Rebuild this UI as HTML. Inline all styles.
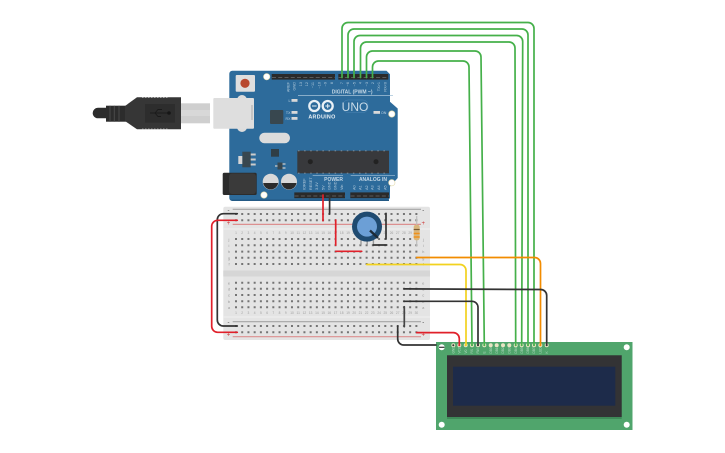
<!DOCTYPE html>
<html><head><meta charset="utf-8"><style>
html,body{margin:0;padding:0;background:#fff;width:725px;height:453px;overflow:hidden}
svg{display:block}
text{font-family:"Liberation Sans",sans-serif}
</style></head><body>
<svg width="725" height="453" viewBox="0 0 725 453" xmlns="http://www.w3.org/2000/svg">
<rect width="725" height="453" fill="#fff"/>

<!-- Breadboard -->
<rect x="223.3" y="206.7" width="206.7" height="133.3" rx="2" fill="#e4e4e4"/>
<rect x="223.3" y="270.5" width="206.7" height="6" fill="#d6d6d6"/>
<path d="M223.3 229h206.7M223.3 317h206.7" stroke="#f0f0f0" stroke-width="1"/>
<path d="M232.7 209.3H421M232.7 321.7H421" stroke="#a5a5a5" stroke-width="1.2"/>
<path d="M232.7 224.4H421M232.7 336.7H421" stroke="#dc9090" stroke-width="1.2"/>
<g stroke="#747474" stroke-width="2" stroke-dasharray="2 4.22" fill="none">
<path d="M235 214H418M235 220.3H418"/>
<path d="M235 239H418M235 245.3H418M235 251.6H418M235 257.8H418M235 264H418"/>
<path d="M235 282.7H418M235 288.8H418M235 295H418M235 301.2H418M235 307.3H418"/>
<path d="M235 326H418M235 332.3H418"/>
</g>
<g font-size="3.2" fill="#a0a0a0" text-anchor="middle">
<text y="234.2"><tspan x="236">1</tspan><tspan x="242.2">2</tspan><tspan x="248.4">3</tspan><tspan x="254.7">4</tspan><tspan x="260.9">5</tspan><tspan x="267.1">6</tspan><tspan x="273.3">7</tspan><tspan x="279.5">8</tspan><tspan x="285.8">9</tspan><tspan x="292">10</tspan><tspan x="298.2">11</tspan><tspan x="304.4">12</tspan><tspan x="310.6">13</tspan><tspan x="316.9">14</tspan><tspan x="323.1">15</tspan><tspan x="329.3">16</tspan><tspan x="335.5">17</tspan><tspan x="341.7">18</tspan><tspan x="348">19</tspan><tspan x="354.2">20</tspan><tspan x="360.4">21</tspan><tspan x="366.6">22</tspan><tspan x="372.8">23</tspan><tspan x="379.1">24</tspan><tspan x="385.3">25</tspan><tspan x="391.5">26</tspan><tspan x="397.7">27</tspan><tspan x="403.9">28</tspan><tspan x="410.2">29</tspan><tspan x="416.4">30</tspan></text>
<text y="314"><tspan x="236">1</tspan><tspan x="242.2">2</tspan><tspan x="248.4">3</tspan><tspan x="254.7">4</tspan><tspan x="260.9">5</tspan><tspan x="267.1">6</tspan><tspan x="273.3">7</tspan><tspan x="279.5">8</tspan><tspan x="285.8">9</tspan><tspan x="292">10</tspan><tspan x="298.2">11</tspan><tspan x="304.4">12</tspan><tspan x="310.6">13</tspan><tspan x="316.9">14</tspan><tspan x="323.1">15</tspan><tspan x="329.3">16</tspan><tspan x="335.5">17</tspan><tspan x="341.7">18</tspan><tspan x="348">19</tspan><tspan x="354.2">20</tspan><tspan x="360.4">21</tspan><tspan x="366.6">22</tspan><tspan x="372.8">23</tspan><tspan x="379.1">24</tspan><tspan x="385.3">25</tspan><tspan x="391.5">26</tspan><tspan x="397.7">27</tspan><tspan x="403.9">28</tspan><tspan x="410.2">29</tspan><tspan x="416.4">30</tspan></text>
</g>
<g font-size="4" fill="#999" text-anchor="middle">
<text x="229" y="241">j</text><text x="229" y="247">i</text><text x="229" y="253">h</text><text x="229" y="259.5">g</text><text x="229" y="265.5">f</text>
<text x="423.3" y="241">j</text><text x="423.3" y="247">i</text><text x="423.3" y="253">h</text><text x="423.3" y="259.5">g</text><text x="423.3" y="265.5">f</text>
<text x="229" y="284.5">e</text><text x="229" y="290.5">d</text><text x="229" y="296.5">c</text><text x="229" y="303">b</text><text x="229" y="309">a</text>
<text x="423.3" y="284.5">e</text><text x="423.3" y="290.5">d</text><text x="423.3" y="296.5">c</text><text x="423.3" y="303">b</text><text x="423.3" y="309">a</text>
</g>
<g font-size="6" text-anchor="middle">
<text x="228.5" y="212" fill="#444">-</text><text x="423.3" y="212" fill="#444">-</text>
<text x="228.5" y="225" fill="#c33">+</text><text x="423.3" y="225" fill="#c33">+</text>
<text x="228.5" y="324" fill="#444">-</text><text x="423.3" y="324" fill="#444">-</text>
<text x="228.5" y="336.5" fill="#c33">+</text><text x="423.3" y="336.5" fill="#c33">+</text>
</g>

<!-- USB cable -->
<rect x="181" y="103.3" width="29" height="20" fill="#cfcfcf"/>
<rect x="181" y="110" width="29" height="6" fill="#d8d8d8"/>
<path d="M92.7 113a5.2 5.2 0 0 1 5.2-5.2H107v10.5H97.9a5.2 5.2 0 0 1-5.2-5.3z" fill="#2c2c2c"/>
<rect x="106" y="105.7" width="20" height="16" fill="#2c2c2c"/>
<path d="M110 105.7v16M114.3 105.7v16M119 105.7v16" stroke="#4a4a4a" stroke-width="1"/>
<path d="M125 106L137 97.3H181V129.3H137L125 121z" fill="#363636"/>
<path d="M142 97.6H168M142 129H168" stroke="#bbb" stroke-width=".8" stroke-dasharray="1.5 1.5"/>
<rect x="145" y="104" width="30" height="18.7" fill="#2d2d2d"/>
<path d="M150 113H168M155 113l3-3.5h4M155 113l3 3.5h3" stroke="#1a1a1a" stroke-width=".9" fill="none"/>
<circle cx="169" cy="113" r="1.8" fill="#161616"/>

<!-- Arduino -->
<path d="M232.3 70.7H386.5L390 74.2V101.7L397.7 108.5V178L390 186.5V198L387 201H232.3A3 3 0 0 1 229.3 198V73.7A3 3 0 0 1 232.3 70.7Z" fill="#2d6b9b"/>
<path d="M229.8 199.5H389V201H232.3z" fill="#245a85"/>
<!-- headers -->
<rect x="271.7" y="74" width="63.3" height="5.6" fill="#2a2a2a"/>
<rect x="338.3" y="74" width="50" height="5.6" fill="#2a2a2a"/>
<rect x="294.3" y="192.4" width="50.7" height="5.8" fill="#2a2a2a"/>
<rect x="350.3" y="192.4" width="38.7" height="5.8" fill="#2a2a2a"/>
<g stroke="#5a5a5a" stroke-width="1" fill="none">
<path d="M272 77.5H335M338.6 77.5H388" stroke-dasharray="4 2.25"/>
<path d="M294.6 196H345M350.6 196H389" stroke-dasharray="4 2.25"/>
</g>
<!-- holes -->
<g fill="#fff" stroke="#e3d9a8" stroke-width=".6">
<circle cx="266.7" cy="76.7" r="3.2"/><circle cx="391.8" cy="114" r="3.2"/><circle cx="391.8" cy="182.7" r="3.2"/><circle cx="264" cy="195" r="3.2"/>
</g>
<!-- reset -->
<rect x="235.7" y="75" width="19.3" height="16.7" rx="1" fill="#dedede"/>
<circle cx="245" cy="83.3" r="4.6" fill="#b8482e"/>
<!-- USB port -->
<rect x="237" y="95" width="10" height="37" rx="5" fill="#dcdcdc"/>
<rect x="213.3" y="98" width="40.7" height="30.7" rx="1" fill="#dedede"/>
<rect x="251.5" y="105" width="1" height="15" fill="#aaa"/>
<!-- chips -->
<rect x="270" y="110" width="13.3" height="14" rx="1" fill="#38474f"/>
<rect x="259.3" y="132.7" width="30.7" height="10.6" rx="5.3" fill="#dcdcdc"/>
<rect x="271" y="149" width="8" height="7.7" fill="#2f3e46"/>
<rect x="242.3" y="151.7" width="8.4" height="15.6" fill="#38474f"/>
<rect x="238.3" y="156" width="4" height="8" fill="#d5d5d5"/>
<path d="M250.7 154.5h5M250.7 159.5h5M250.7 164.5h5" stroke="#ccc" stroke-width="2"/>
<rect x="277.5" y="162.5" width="5" height="7" fill="#38474f"/>
<path d="M282.5 164h3M282.5 168h3M275 166h2.5" stroke="#ccc" stroke-width="1.2"/>
<rect x="297.3" y="150.7" width="91.7" height="22.6" fill="#38393c"/>
<path d="M298 150.9H388.5M298 173.1H388.5" stroke="#999" stroke-width=".8" stroke-dasharray="1.5 4.6"/>
<circle cx="310.3" cy="161.7" r="2.5" fill="#222"/>
<circle cx="376" cy="161.7" r="2.5" fill="#222"/>
<!-- caps -->
<circle cx="270.7" cy="181.7" r="8" fill="#d9d9d9"/>
<path d="M263.2 183a7.6 7.6 0 0 0 15 0z" fill="#2b2b2b"/>
<circle cx="289" cy="181.7" r="8" fill="#d9d9d9"/>
<path d="M281.5 183a7.6 7.6 0 0 0 15 0z" fill="#2b2b2b"/>
<!-- jack -->
<rect x="222.7" y="172.7" width="34" height="22.3" rx="1.5" fill="#2c2c2c"/>
<rect x="229" y="173.5" width="27" height="20.5" rx="3" fill="#3a3a3a"/>
<!-- LEDs -->
<g fill="#d8d8d8">
<rect x="291.5" y="99" width="6" height="2.8"/><rect x="291.5" y="111" width="6" height="2.8"/><rect x="291.5" y="117" width="6" height="2.8"/><rect x="373.5" y="111" width="6.5" height="2.8"/>
</g>
<g font-size="3.6" fill="#c4d7e5" text-anchor="end">
<text x="290.5" y="101.8">L</text><text x="290.5" y="113.8">TX</text><text x="290.5" y="119.8">RX</text>
</g>
<text x="381" y="113.8" font-size="3.6" fill="#c4d7e5">ON</text>
<!-- logo -->
<g fill="none" stroke="#eaf1f6" stroke-width="2.3">
<circle cx="314.3" cy="106" r="5"/><circle cx="327.7" cy="106" r="5"/>
</g>
<path d="M312 106h4.6M325.4 106h4.6M327.7 103.7v4.6" stroke="#eaf1f6" stroke-width="1"/>
<text x="322" y="118.5" font-size="5.4" font-weight="bold" fill="#eaf1f6" text-anchor="middle" letter-spacing=".3">ARDUINO</text>
<rect x="343" y="100" width="25" height="12.5" rx="5" fill="none" stroke="#4c87b5" stroke-width=".5"/>
<text x="355" y="111" font-size="12" fill="#c9dbe8" text-anchor="middle">UNO</text>
<!-- labels -->
<text x="372.5" y="93.5" font-size="5" font-weight="bold" fill="#c4d7e5" text-anchor="end">DIGITAL (PWM ~)</text>
<path d="M298 95.5H393M312.7 175.7H343M350.7 175.7H395" stroke="#a7c4d9" stroke-width=".7"/>
<text x="343" y="180.8" font-size="5" font-weight="bold" fill="#c4d7e5" text-anchor="end">POWER</text>
<text x="387" y="180.8" font-size="5" font-weight="bold" fill="#c4d7e5" text-anchor="end">ANALOG IN</text>
<g font-size="3.8" fill="#b4cbdc" text-anchor="end">
<text transform="translate(289.6,82) rotate(-90)" text-anchor="end">AREF</text>
<text transform="translate(295.6,82) rotate(-90)" text-anchor="end">GND</text>
<text transform="translate(301.8,82) rotate(-90)" text-anchor="end">13</text>
<text transform="translate(308,82) rotate(-90)" text-anchor="end">12</text>
<text transform="translate(314.2,82) rotate(-90)" text-anchor="end">~11</text>
<text transform="translate(320.4,82) rotate(-90)" text-anchor="end">~10</text>
<text transform="translate(326.6,82) rotate(-90)" text-anchor="end">~9</text>
<text transform="translate(332.8,82) rotate(-90)" text-anchor="end">8</text>
<text transform="translate(343,82) rotate(-90)" text-anchor="end">7</text>
<text transform="translate(349.2,82) rotate(-90)" text-anchor="end">~6</text>
<text transform="translate(355.4,82) rotate(-90)" text-anchor="end">~5</text>
<text transform="translate(361.6,82) rotate(-90)" text-anchor="end">4</text>
<text transform="translate(367.8,82) rotate(-90)" text-anchor="end">~3</text>
<text transform="translate(374,82) rotate(-90)" text-anchor="end">2</text>
<text transform="translate(380.2,82) rotate(-90)" text-anchor="end">TX&gt;1</text>
<text transform="translate(386.4,82) rotate(-90)" text-anchor="end">RX&lt;0</text>
</g>
<g font-size="3.8" fill="#b4cbdc">
<text transform="translate(305.6,190) rotate(-90)">IOREF</text>
<text transform="translate(312,190) rotate(-90)">RESET</text>
<text transform="translate(318,190) rotate(-90)">3.3V</text>
<text transform="translate(324.3,190) rotate(-90)">5V</text>
<text transform="translate(330.6,190) rotate(-90)">GND</text>
<text transform="translate(336.6,190) rotate(-90)">GND</text>
<text transform="translate(343,190) rotate(-90)">Vin</text>
<text transform="translate(355.3,190) rotate(-90)">A0</text>
<text transform="translate(361.6,190) rotate(-90)">A1</text>
<text transform="translate(368,190) rotate(-90)">A2</text>
<text transform="translate(373.6,190) rotate(-90)">A3</text>
<text transform="translate(380,190) rotate(-90)">A4</text>
<text transform="translate(386.3,190) rotate(-90)">A5</text>
</g>

<!-- Potentiometer -->
<path d="M361 238v7M367.2 238v7M373.4 238v7" stroke="#999" stroke-width="1.4"/>
<circle cx="367" cy="226.6" r="15" fill="#1f4a70"/>
<circle cx="367" cy="226.6" r="10" fill="#6c9fd6"/>
<path d="M370 230.5L378 238" stroke="#1d2a36" stroke-width="2.4"/>

<!-- Resistor -->
<path d="M416.7 216V246" stroke="#bdbdbd" stroke-width="1.2"/>
<rect x="413.7" y="224.7" width="6" height="15.6" rx="2.4" fill="#d9b67c"/>
<path d="M413.7 229.5h6" stroke="#7a5a30" stroke-width="1.2"/>
<path d="M413.7 233.5h6M413.7 237h6" stroke="#f0901a" stroke-width="1.6"/>

<!-- LCD -->
<rect x="436" y="342" width="196.5" height="88" fill="#50a56c"/>
<rect x="447" y="355.3" width="174.7" height="63.7" fill="#3e8a58"/>
<rect x="447" y="355.3" width="174.7" height="61.7" fill="#333335"/>
<rect x="453" y="366.7" width="162.3" height="39" fill="#1d2b4a"/>
<g fill="#fff">
<circle cx="441.7" cy="347.3" r="3"/><circle cx="626.7" cy="347.3" r="3"/><circle cx="441.7" cy="424.7" r="3"/><circle cx="626.7" cy="424.7" r="3"/>
</g>
<path d="M439 347.3h5.5" stroke="#333" stroke-width="1.2"/>
<g fill="#e8e4c4">
<circle cx="453.3" cy="345.2" r="2"/><circle cx="459.3" cy="345.2" r="2"/><circle cx="465.7" cy="345.2" r="2"/><circle cx="472" cy="345.2" r="2"/><circle cx="478" cy="345.2" r="2"/><circle cx="484.3" cy="345.2" r="2"/><circle cx="490.7" cy="345.2" r="2"/><circle cx="496.7" cy="345.2" r="2"/><circle cx="503" cy="345.2" r="2"/><circle cx="509.3" cy="345.2" r="2"/><circle cx="515.7" cy="345.2" r="2"/><circle cx="521.7" cy="345.2" r="2"/><circle cx="528" cy="345.2" r="2"/><circle cx="534" cy="345.2" r="2"/><circle cx="540.3" cy="345.2" r="2"/><circle cx="546.7" cy="345.2" r="2"/>
</g>
<circle cx="453.3" cy="345.2" r="1" fill="#333"/><circle cx="459.3" cy="345.2" r="1" fill="#d33"/><circle cx="465.7" cy="345.2" r="1" fill="#e8c820"/><circle cx="472" cy="345.2" r="1" fill="#4ab04a"/><circle cx="478" cy="345.2" r="1" fill="#333"/><circle cx="484.3" cy="345.2" r="1" fill="#4ab04a"/><circle cx="515.7" cy="345.2" r="1" fill="#4ab04a"/><circle cx="521.7" cy="345.2" r="1" fill="#4ab04a"/><circle cx="528" cy="345.2" r="1" fill="#4ab04a"/><circle cx="534" cy="345.2" r="1" fill="#4ab04a"/><circle cx="540.3" cy="345.2" r="1" fill="#f0901a"/><circle cx="546.7" cy="345.2" r="1" fill="#333"/>
<g font-size="3.2" fill="#b9dcc5">
<text transform="translate(454.5,353.5) rotate(-90)">GND</text>
<text transform="translate(460.5,353.5) rotate(-90)">VCC</text>
<text transform="translate(466.9,353.5) rotate(-90)">V0</text>
<text transform="translate(473.2,353.5) rotate(-90)">RS</text>
<text transform="translate(479.2,353.5) rotate(-90)">RW</text>
<text transform="translate(485.5,353.5) rotate(-90)">E</text>
<text transform="translate(491.9,353.5) rotate(-90)">DB0</text>
<text transform="translate(497.9,353.5) rotate(-90)">DB1</text>
<text transform="translate(504.2,353.5) rotate(-90)">DB2</text>
<text transform="translate(510.5,353.5) rotate(-90)">DB3</text>
<text transform="translate(516.9,353.5) rotate(-90)">DB4</text>
<text transform="translate(522.9,353.5) rotate(-90)">DB5</text>
<text transform="translate(529.2,353.5) rotate(-90)">DB6</text>
<text transform="translate(535.2,353.5) rotate(-90)">DB7</text>
<text transform="translate(541.5,353.5) rotate(-90)">LED</text>
<text transform="translate(547.9,353.5) rotate(-90)">K</text>
</g>

<!-- Wires -->
<g fill="none" stroke-linecap="round" stroke-linejoin="round">
<!-- green -->
<g stroke="#45b04a" stroke-width="1.7">
<path d="M342 77.5V28.5a6 6 0 0 1 6-6H528a6 6 0 0 1 6 6V345"/>
<path d="M348 77.5V35a6 6 0 0 1 6-6H522a6 6 0 0 1 6 6V345"/>
<path d="M354 77.5V41.5a6 6 0 0 1 6-6H516.7a6 6 0 0 1 6 6L521.7 345"/>
<path d="M360.5 77.5V48a6 6 0 0 1 6-6H509a6 6 0 0 1 6 6L515.7 345"/>
<path d="M366.5 77.5V57a6 6 0 0 1 6-6H475a6 6 0 0 1 6 6L484.3 345"/>
<path d="M372.5 77.5V67a6 6 0 0 1 6-6H463a6 6 0 0 1 6 6L472 345"/>
</g>
<!-- power from Arduino -->
<path d="M323 195V220.7" stroke="#e0202a" stroke-width="1.7"/>
<path d="M329.6 195V214" stroke="#333" stroke-width="1.7"/>
<!-- rails -->
<path d="M237.3 213.7H223.3a6 6 0 0 0-6 6V320a6 6 0 0 0 6 6H237.3" stroke="#333" stroke-width="1.7"/>
<path d="M237.3 220.3H217.7a6 6 0 0 0-6 6V326.3a6 6 0 0 0 6 6H237.3" stroke="#e0202a" stroke-width="1.7"/>
<!-- breadboard jumpers -->
<path d="M335.7 220V245.3" stroke="#e0202a" stroke-width="1.7"/>
<path d="M335.7 251.3H361.7" stroke="#e0202a" stroke-width="1.7"/>
<path d="M386 213.3V239" stroke="#333" stroke-width="1.7"/>
<path d="M373.3 245H386.7" stroke="#333" stroke-width="1.7"/>
<path d="M404.3 306.7V326.7" stroke="#444" stroke-width="1.7"/>
<!-- to LCD -->
<path d="M416.7 257.5H534.5a6 6 0 0 1 6 6V345" stroke="#f28c00" stroke-width="1.7"/>
<path d="M366.7 264.5H460a6 6 0 0 1 6 6V345" stroke="#f2d21f" stroke-width="1.7"/>
<path d="M404 288.9L540.7 289.5a6 6 0 0 1 6 6V345" stroke="#333" stroke-width="1.7"/>
<path d="M404 301.3H472a6 6 0 0 1 6 6V345" stroke="#333" stroke-width="1.7"/>
<path d="M397.7 326V339a6 6 0 0 0 6 6H436" stroke="#333" stroke-width="1.7"/>
<path d="M416.7 332.6H453.3a6 6 0 0 1 6 6V345" stroke="#e0202a" stroke-width="1.7"/>
</g>
</svg>
</body></html>
